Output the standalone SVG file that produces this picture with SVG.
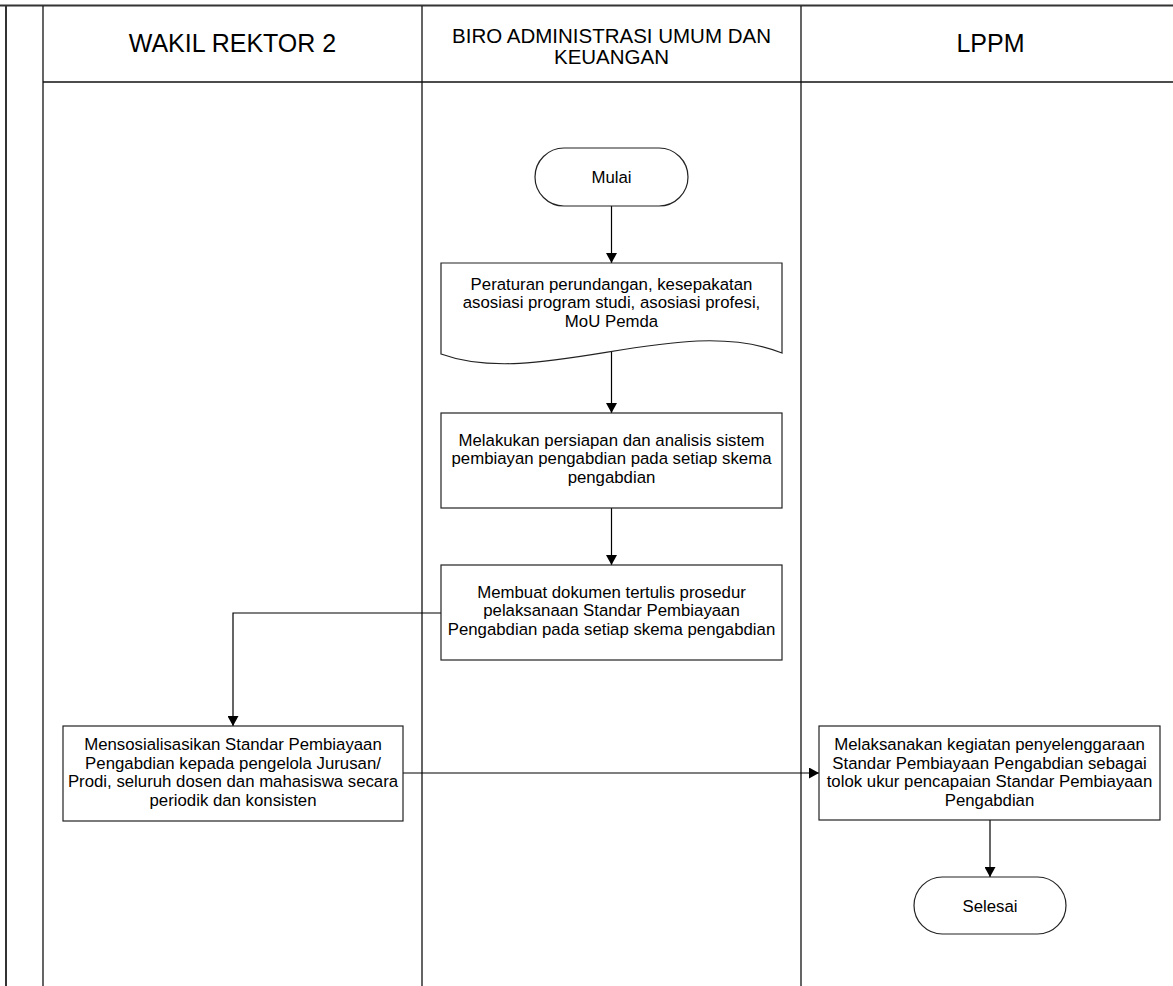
<svg xmlns="http://www.w3.org/2000/svg" width="1173" height="986" viewBox="0 0 1173 986">
<style>
.frame{stroke:#333;stroke-width:2;fill:none}
.lane{stroke:#111;stroke-width:1.3;fill:none}
.shape{fill:#fff;stroke:#222;stroke-width:1.2}
.conn{stroke:#000;stroke-width:1.2;fill:none;marker-end:url(#arr)}
text{font-family:"Liberation Sans",Arial,sans-serif;fill:#000;text-anchor:middle}
.b{font-size:16.8px}
.h1{font-size:25px}
.h2{font-size:20.5px}
</style>
<defs>
<marker id="arr" markerUnits="userSpaceOnUse" markerWidth="11" markerHeight="11" refX="10" refY="5.5" orient="auto">
<path d="M0,0 L10,5.5 L0,11 z" fill="#000"/>
</marker>
</defs>
<rect width="1173" height="986" fill="#fff"/>
<g id="pool">
<line class="frame" x1="0" y1="5.5" x2="1173" y2="5.5"/>
<line class="frame" x1="6" y1="5.5" x2="6" y2="986"/>
<line class="lane" x1="43" y1="6" x2="43" y2="986"/>
<line class="lane" x1="422" y1="6" x2="422" y2="986"/>
<line class="lane" x1="801" y1="6" x2="801" y2="986"/>
<line class="lane" x1="43" y1="82" x2="1173" y2="82"/>
</g>
<g id="lane-wakil"><text class="h1" x="232.5" y="52">WAKIL REKTOR 2</text></g>
<g id="lane-biro"><text class="h2" x="611.5" y="43">BIRO ADMINISTRASI UMUM DAN</text><text class="h2" x="611.5" y="64">KEUANGAN</text></g>
<g id="lane-lppm"><text class="h1" x="990.5" y="52">LPPM</text></g>
<g id="connectors">
<path class="conn" d="M611.5,206 V263"/>
<path class="conn" d="M611.5,352 V413"/>
<path class="conn" d="M611.5,508 V565"/>
<path class="conn" d="M441,613 H233 V726"/>
<path class="conn" d="M403,773 H819"/>
<path class="conn" d="M990,820 V877"/>
</g>
<g id="mulai">
<rect class="shape" x="535" y="148" width="153" height="58" rx="29" ry="29"/>
<text class="b" x="611.5" y="183">Mulai</text>
</g>
<g id="peraturan">
<path class="shape" d="M441,263 H782 V353 C680,312 540,390 441,354 Z"/>
<text class="b" x="611.5" y="289.5">Peraturan perundangan, kesepakatan</text>
<text class="b" x="611.5" y="308">asosiasi program studi, asosiasi profesi,</text>
<text class="b" x="611.5" y="326.5">MoU Pemda</text>
</g>
<g id="persiapan">
<rect class="shape" x="441" y="413" width="341" height="95"/>
<text class="b" x="611.5" y="445.5">Melakukan persiapan dan analisis sistem</text>
<text class="b" x="611.5" y="464">pembiayan pengabdian pada setiap skema</text>
<text class="b" x="611.5" y="482.5">pengabdian</text>
</g>
<g id="dokumen">
<rect class="shape" x="441" y="565" width="341" height="95"/>
<text class="b" x="611.5" y="597.5">Membuat dokumen tertulis prosedur</text>
<text class="b" x="611.5" y="616">pelaksanaan Standar Pembiayaan</text>
<text class="b" x="611.5" y="634.5">Pengabdian pada setiap skema pengabdian</text>
</g>
<g id="sosialisasi">
<rect class="shape" x="63" y="726" width="340" height="95"/>
<text class="b" x="233" y="750">Mensosialisasikan Standar Pembiayaan</text>
<text class="b" x="233" y="768.5">Pengabdian kepada pengelola Jurusan/</text>
<text class="b" x="233" y="787">Prodi, seluruh dosen dan mahasiswa secara</text>
<text class="b" x="233" y="805.5">periodik dan konsisten</text>
</g>
<g id="melaksanakan">
<rect class="shape" x="819" y="726" width="341" height="94"/>
<text class="b" x="989.5" y="750">Melaksanakan kegiatan penyelenggaraan</text>
<text class="b" x="989.5" y="768.5">Standar Pembiayaan Pengabdian sebagai</text>
<text class="b" x="989.5" y="787">tolok ukur pencapaian Standar Pembiayaan</text>
<text class="b" x="989.5" y="805.5">Pengabdian</text>
</g>
<g id="selesai">
<rect class="shape" x="914" y="877" width="152" height="57" rx="28.5" ry="28.5"/>
<text class="b" x="990" y="911.5">Selesai</text>
</g>
</svg>
